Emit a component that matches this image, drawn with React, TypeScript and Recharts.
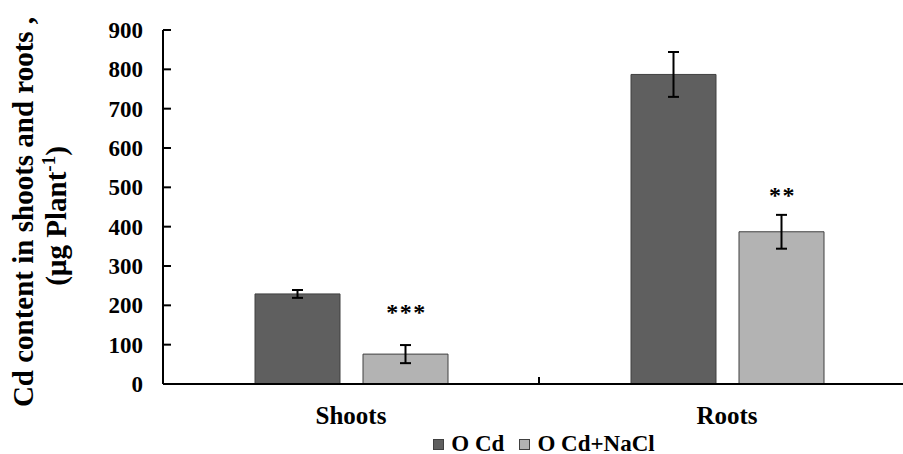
import React from 'react';
import { BarChart, Bar, XAxis, YAxis, ErrorBar, Legend, LabelList } from 'recharts';

const FONT = '"Liberation Serif", "Times New Roman", serif';

const categories = ['Shoots', 'Roots'];
const cdValues = [229, 787];
const cdErrors = [10, 57];
const naclValues = [76, 387];
const naclErrors = [23, 43];
const sigLabels = ['***', '**'];
const sigAnchor = [163, 460];
const yTicks = [0, 100, 200, 300, 400, 500, 600, 700, 800, 900];
const seriesNames = ['O Cd', 'O Cd+NaCl'];
const seriesColors = ['#5f5f5f', '#b3b3b3'];

const data = categories.map((c, i) => ({
  category: c,
  cd: cdValues[i],
  cdErr: cdErrors[i],
  nacl: naclValues[i],
  naclErr: naclErrors[i],
  sig: sigLabels[i],
}));

const YLabel = (props: any) => {
  const vb = props.viewBox || { x: 0, y: 30, width: 163, height: 354 };
  const cy = vb.y + vb.height / 2 + 5;
  const x1 = vb.x + 33;
  const x2 = vb.x + 66;
  return (
    <g>
      <text
        x={x1}
        y={cy}
        transform={`rotate(-90, ${x1}, ${cy})`}
        textAnchor="middle"
        fontFamily={FONT}
        fontWeight="bold"
        fontSize={29}
        fill="#000"
      >
        Cd content in shoots and roots ,
      </text>
      <text
        x={x2}
        y={cy + 4}
        transform={`rotate(-90, ${x2}, ${cy + 4})`}
        textAnchor="middle"
        fontFamily={FONT}
        fontWeight="bold"
        fontSize={29}
        fill="#000"
      >
        (µg Plant
        <tspan dy={-11} fontSize={19}>-1</tspan>
        <tspan dy={11}>)</tspan>
      </text>
    </g>
  );
};

const CategoryTick = (props: any) => {
  const { x, y, payload } = props;
  const half = payload && typeof payload.offset === 'number' ? payload.offset : null;
  const axisY = y - 22;
  return (
    <g>
      <text
        x={x}
        y={y}
        dy="0.71em"
        textAnchor="middle"
        fontFamily={FONT}
        fontWeight="bold"
        fontSize={25}
        fill="#000"
      >
        {payload.value}
      </text>
      {payload.index === 0 && half ? (
        <line x1={x + half} x2={x + half} y1={axisY} y2={axisY - 7} stroke="#000" strokeWidth={2} />
      ) : null}
    </g>
  );
};

const renderSig = (props: any) => {
  const { x, y, width, height, value, index } = props;
  const v = naclValues[index];
  const pxPerUnit = height / v;
  const baseY = y + height - sigAnchor[index] * pxPerUnit;
  return (
    <text
      x={x + width / 2 + 1}
      y={baseY}
      textAnchor="middle"
      fontFamily={FONT}
      fontWeight="bold"
      fontSize={24}
      letterSpacing={1.5}
      fill="#000"
    >
      {value}
    </text>
  );
};

const renderLegend = () => (
  <div
    style={{
      height: 30,
      boxSizing: 'border-box',
      paddingTop: 9,
      display: 'flex',
      justifyContent: 'center',
      alignItems: 'center',
      fontFamily: FONT,
      fontWeight: 'bold',
      fontSize: 23,
      lineHeight: '20px',
      color: '#000',
    }}
  >
    {seriesNames.map((n, i) => (
      <div key={n} style={{ display: 'flex', alignItems: 'center', marginLeft: i === 0 ? 0 : 15 }}>
        <span
          style={{
            display: 'inline-block',
            width: 11,
            height: 11,
            boxSizing: 'border-box',
            background: seriesColors[i],
            border: '1px solid #404040',
            marginRight: 7,
            marginTop: 2,
          }}
        />
        <span style={{ whiteSpace: 'nowrap' }}>{n}</span>
      </div>
    ))}
  </div>
);

export default function App() {
  return (
    <div
      style={{
        position: 'absolute',
        left: 0,
        top: 0,
        width: 903,
        height: 454,
        overflow: 'hidden',
        background: '#fff',
      }}
    >
      <BarChart
        width={930}
        height={454}
        data={data}
        margin={{ top: 30, right: 15, left: 0, bottom: 0 }}
        barGap={23}
        barSize={85}
      >
        <XAxis
          dataKey="category"
          tickLine={false}
          tickSize={0}
          tickMargin={22}
          axisLine={{ stroke: '#000', strokeWidth: 2 }}
          tick={(p: any) => <CategoryTick {...p} />}
          height={40}
        />
        <XAxis
          xAxisId="top"
          dataKey="category"
          orientation="top"
          tick={false}
          tickLine={false}
          axisLine={{ stroke: '#000', strokeWidth: 2 }}
          height={0}
        />
        <YAxis
          width={163}
          domain={[0, 900]}
          ticks={yTicks}
          interval={0}
          tickSize={-8}
          tickMargin={28}
          tickLine={{ stroke: '#000', strokeWidth: 2 }}
          axisLine={{ stroke: '#000', strokeWidth: 2 }}
          tick={{ fontFamily: FONT, fontWeight: 'bold', fontSize: 23, fill: '#000' }}
          label={(p: any) => <YLabel {...p} />}
        />
        <Legend
          verticalAlign="bottom"
          align="left"
          wrapperStyle={{ left: 168, width: 752, bottom: 0 }}
          content={renderLegend}
        />
        <Bar dataKey="cd" name={seriesNames[0]} fill={seriesColors[0]} stroke="#404040" strokeWidth={1} isAnimationActive={false}>
          <ErrorBar dataKey="cdErr" width={5.5} strokeWidth={2} stroke="#000" direction="y" />
        </Bar>
        <Bar dataKey="nacl" name={seriesNames[1]} fill={seriesColors[1]} stroke="#404040" strokeWidth={1} isAnimationActive={false}>
          <ErrorBar dataKey="naclErr" width={5.5} strokeWidth={2} stroke="#000" direction="y" />
          <LabelList dataKey="sig" content={renderSig} />
        </Bar>
      </BarChart>
    </div>
  );
}
